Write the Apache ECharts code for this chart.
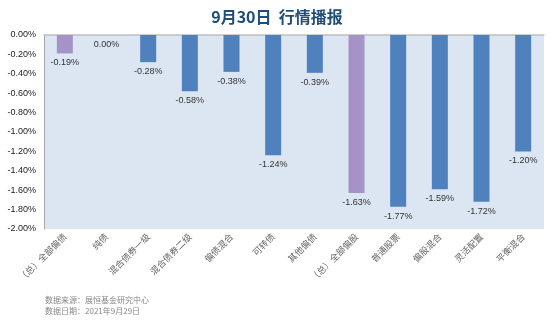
<!DOCTYPE html>
<html><head><meta charset="utf-8">
<script src="https://cdn.jsdelivr.net/npm/echarts@6/dist/echarts.min.js"></script>
<style>html,body{margin:0;padding:0;background:#fff}#c{width:554px;height:323px}</style>
</head><body><div id="c"></div>
<script>
const categories = ['（总）全部偏债','纯债','混合债券一级','混合债券二级','偏债混合','可转债','其他偏债','（总）全部偏股','普通股票','偏股混合','灵活配置','平衡混合'];
const values = [-0.19, 0.00, -0.28, -0.58, -0.38, -1.24, -0.39, -1.63, -1.77, -1.59, -1.72, -1.20];
const highlighted = [0, 7];
const yTicks = {min: -2, max: 0, interval: 0.2};

const chart = echarts.init(document.getElementById('c'));
chart.setOption({
  animation: false,
  title: {
    text: '9月30日  行情播报', left: 'center', top: 4,
    textStyle: {color: '#1f4e79', fontSize: 16, fontWeight: 'bold', fontFamily: 'Noto Sans CJK SC'}
  },
  grid: {left: 44, right: 10, top: 35, bottom: 94, show: true, backgroundColor: '#dce6f2', borderWidth: 0},
  xAxis: [{
    type: 'category', data: categories, position: 'top',
    axisLine: {show: true, lineStyle: {color: '#bfbfbf', width: 1.5}},
    axisTick: {show: false},
    axisLabel: {show: false}
  }, {
    type: 'category', data: categories, position: 'bottom',
    axisLine: {show: false}, axisTick: {show: false},
    axisLabel: {rotate: 45, color: '#666', fontSize: 9, fontFamily: 'Noto Sans CJK SC', margin: 6, interval: 0}
  }],
  yAxis: {
    type: 'value', min: yTicks.min, max: yTicks.max, interval: yTicks.interval,
    axisLine: {show: true, lineStyle: {color: '#a6a6a6'}},
    axisTick: {show: false},
    splitLine: {show: false},
    axisLabel: {color: '#222', fontSize: 9, fontFamily: 'Liberation Sans', margin: 8,
      formatter: v => v.toFixed(2) + '%'}
  },
  series: [{
    type: 'bar', barWidth: 16, xAxisIndex: 0,
    data: values.map((v, i) => ({value: v, itemStyle: {color: highlighted.includes(i) ? '#a593c6' : '#4f81bd'}})),
    label: {show: true, position: 'bottom', distance: 5, color: '#333', fontSize: 9, fontFamily: 'Liberation Sans',
      formatter: p => p.value.toFixed(2) + '%'}
  }],
  graphic: [
    {type: 'text', left: 45, top: 296, style: {text: '数据来源：展恒基金研究中心', fill: '#888', fontSize: 8, fontFamily: 'Noto Sans CJK SC'}},
    {type: 'text', left: 45, top: 307, style: {text: '数据日期：2021年9月29日', fill: '#888', fontSize: 8, fontFamily: 'Noto Sans CJK SC'}}
  ]
});
</script></body></html>
